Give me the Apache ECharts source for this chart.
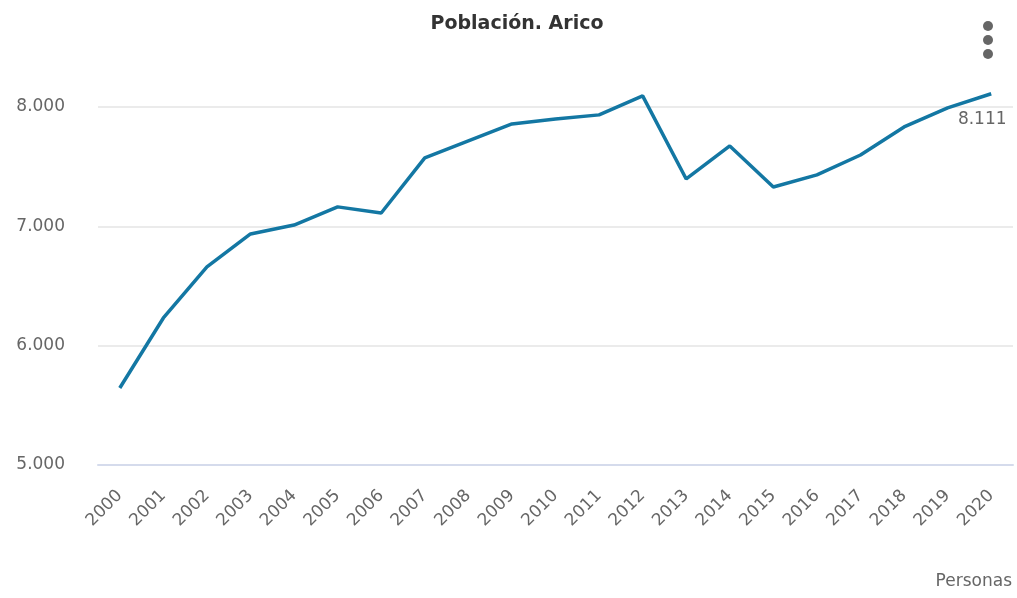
<!DOCTYPE html>
<html>
<head>
<meta charset="utf-8">
<script src="https://cdn.jsdelivr.net/npm/echarts@6/dist/echarts.min.js"></script>
<style>
html,body{margin:0;padding:0;background:#fff;}
#c{width:1017px;height:598px;}
</style>
</head>
<body>
<div id="c"></div>
<script>
var years = ['2000','2001','2002','2003','2004','2005','2006','2007','2008','2009','2010','2011','2012','2013','2014','2015','2016','2017','2018','2019','2020'];
var population = [5645, 6232, 6660, 6936, 7011, 7163, 7112, 7573, 7716, 7858, 7900, 7934, 8093, 7397, 7674, 7330, 7431, 7598, 7833, 7992, 8111];
var titleText = 'Población. Arico';
var unitText = 'Personas';

function fmt(v){
  return String(Math.round(v)).replace(/\B(?=(\d{3})+(?!\d))/g, '.');
}

var FONT = 'DejaVu Sans';
var chart = echarts.init(document.getElementById('c'), null, {renderer:'canvas'});

chart.setOption({
  animation: false,
  backgroundColor: '#fff',
  title: {
    text: titleText,
    left: 512,
    top: 10,
    textAlign: 'center',
    textStyle: {fontFamily: FONT, fontSize: 19, fontWeight: 'bold', color: '#333'}
  },
  grid: {left: 98, right: 4, top: 107, bottom: 133, containLabel: false},
  xAxis: {
    type: 'category',
    data: years,
    boundaryGap: true,
    z: 5,
    axisLine: {show: true, lineStyle: {color: '#d5dbec', width: 2}},
    axisTick: {show: false},
    axisLabel: {
      rotate: 45,
      margin: 28,
      interval: 0,
      color: '#666',
      fontFamily: FONT,
      fontSize: 17
    },
    splitLine: {show: false}
  },
  yAxis: {
    type: 'value',
    min: 5000,
    max: 8000,
    interval: 1000,
    axisLine: {show: false},
    axisTick: {show: false},
    axisLabel: {
      margin: 33,
      color: '#666',
      fontFamily: FONT,
      fontSize: 17,
      formatter: function(v){ return fmt(v); }
    },
    splitLine: {show: true, lineStyle: {color: '#ebebeb', width: 2}}
  },
  series: [{
    type: 'line',
    data: population,
    clip: false,
    symbol: 'none',
    showSymbol: false,
    smooth: false,
    lineStyle: {color: '#1377a3', width: 3.5},
    itemStyle: {color: '#1377a3'},
    endLabel: {
      show: true,
      formatter: function(p){ return fmt(p.value); },
      color: '#666',
      fontFamily: FONT,
      fontSize: 17,
      align: 'center',
      verticalAlign: 'middle',
      distance: 0,
      offset: [-9, 26]
    }
  }],
  graphic: [
    {type: 'text', right: 5, top: 573, style: {text: unitText, fill: '#666', font: '17px "DejaVu Sans"'}},
    {type: 'circle', shape: {cx: 988, cy: 26, r: 5}, style: {fill: '#666'}},
    {type: 'circle', shape: {cx: 988, cy: 40, r: 5}, style: {fill: '#666'}},
    {type: 'circle', shape: {cx: 988, cy: 54, r: 5}, style: {fill: '#666'}}
  ]
});
</script>
</body>
</html>
